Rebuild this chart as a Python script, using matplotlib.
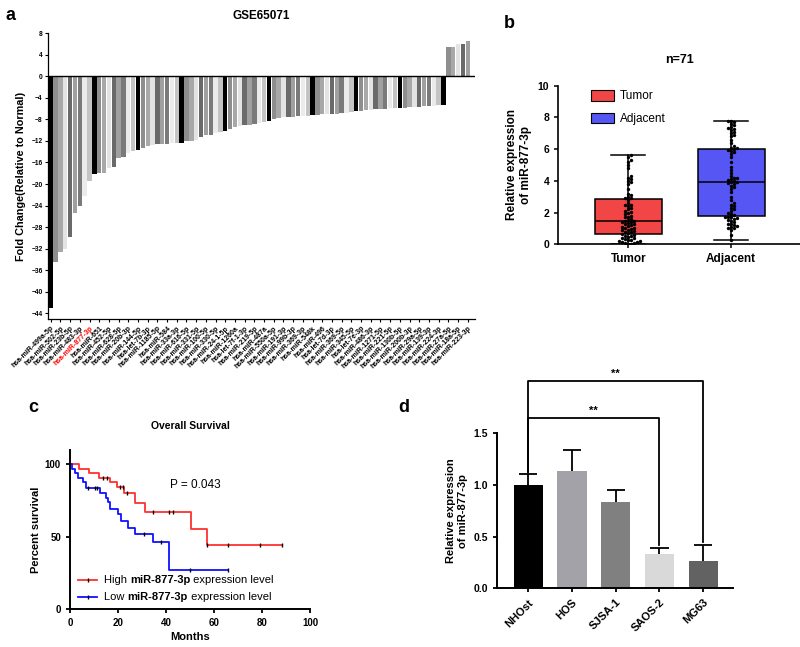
"""Four-panel miR-877-3p figure: GSE65071 fold change, tissue box plot, survival, cell lines."""

import numpy as np
import matplotlib

matplotlib.use("Agg")
import matplotlib.pyplot as plt
from matplotlib.patches import Patch

# ---- panel a: GSE65071 fold change ----
mirna_labels = [
    "hsa-miR-499a-5p", "hsa-miR-502-5p", "hsa-miR-23b-5p", "hsa-miR-483-3p",
    "hsa-miR-877-3p", "hsa-miR-651", "hsa-miR-452-5p", "hsa-miR-628-5p",
    "hsa-miR-20b-3p", "hsa-miR-144-5p", "hsa-let-7b-3p", "hsa-miR-1185-5p",
    "hsa-miR-584", "hsa-miR-33a-3p", "hsa-miR-616-5p", "hsa-miR-331-5p",
    "hsa-miR-100-5p", "hsa-miR-330-5p", "hsa-miR-24-1-5p", "hsa-miR-1260a",
    "hsa-let-7f-1-3p", "hsa-miR-219-5p", "hsa-miR-487a", "hsa-miR-550a-5p",
    "hsa-miR-191-3p", "hsa-miR-99b-3p", "hsa-miR-369-3p", "hsa-miR-548k",
    "hsa-miR-496", "hsa-let-7d-3p", "hsa-miR-369-5p", "hsa-miR-345-5p",
    "hsa-let-7e-3p", "hsa-miR-486-3p", "hsa-miR-1271-5p", "hsa-miR-221-5p",
    "hsa-miR-130b-5p", "hsa-miR-200b-3p", "hsa-miR-29a-5p", "hsa-miR-139-3p",
    "hsa-miR-224-3p", "hsa-miR-27a-5p", "hsa-miR-18a-5p", "hsa-miR-223-3p",
]
highlight_label = "hsa-miR-877-3p"
fold_change = [
    -43.1, -34.4, -32.7, -32.0, -29.9, -25.3, -24.1, -22.2, -19.4,
    -18.2, -18.0, -17.9, -17.1, -16.8, -15.1, -15.0, -14.2, -13.9,
    -13.6, -13.4, -13.0, -12.8, -12.6, -12.6, -12.5, -12.4, -12.4,
    -12.3, -12.1, -12.0, -11.9, -11.2, -10.9, -10.8, -10.5, -10.3,
    -10.2, -9.7, -9.4, -9.2, -9.1, -9.0, -8.8, -8.6, -8.4,
    -8.2, -8.0, -7.8, -7.6, -7.5, -7.5, -7.4, -7.4, -7.3,
    -7.2, -7.1, -6.9, -6.9, -6.9, -6.9, -6.8, -6.8, -6.6,
    -6.4, -6.4, -6.3, -6.2, -6.1, -6.1, -6.0, -5.9, -5.9,
    -5.8, -5.8, -5.7, -5.6, -5.6, -5.5, -5.5, -5.5, -5.4,
    -5.4, 5.4, 5.5, 6.0, 6.1, 6.6,
]
bar_shades = ["#000000", "#8e8e8e", "#a8a8a8", "#e3e3e3", "#6a6a6a",
              "#a0a0a0", "#7a7a7a", "#ebebeb", "#c4c4c4"]

# ---- panel b: tumor vs adjacent ----
groups_b = ["Tumor", "Adjacent"]
group_colors_b = ["#f24545", "#5656f5"]
box_q1 = [0.65, 1.8]
box_median = [1.45, 3.9]
box_q3 = [2.85, 6.0]
box_min = [0.05, 0.3]
box_max = [5.65, 7.8]
tumor_values = [
    0.02, 0.05, 0.08, 0.1, 0.12, 0.15, 0.18, 0.2, 0.25, 0.3, 0.32, 0.38,
    0.42, 0.45, 0.5, 0.55, 0.6, 0.63, 0.7, 0.75, 0.8, 0.85, 0.88, 0.92,
    0.95, 1.0, 1.05, 1.1, 1.15, 1.2, 1.25, 1.3, 1.35, 1.4, 1.42, 1.45,
    1.5, 1.55, 1.6, 1.7, 1.75, 1.8, 1.9, 2.0, 2.05, 2.1, 2.2, 2.3,
    2.4, 2.45, 2.5, 2.6, 2.8, 2.9, 2.95, 3.0, 3.1, 3.2, 3.5, 3.8,
    3.9, 4.0, 4.1, 4.2, 4.3, 4.8, 5.0, 5.2, 5.3, 5.5, 5.6,
]
adjacent_values = [
    0.3, 0.6, 0.9, 1.0, 1.05, 1.1, 1.15, 1.2, 1.25, 1.3, 1.4, 1.5,
    1.55, 1.6, 1.65, 1.7, 1.72, 1.75, 1.85, 1.9, 2.0, 2.1, 2.2, 2.3,
    2.4, 2.5, 2.6, 2.8, 3.0, 3.3, 3.5, 3.6, 3.7, 3.8, 3.85, 3.9,
    3.95, 4.0, 4.05, 4.1, 4.15, 4.2, 4.3, 4.5, 4.7, 4.9, 5.2, 5.5,
    5.7, 5.8, 5.9, 5.95, 6.0, 6.05, 6.1, 6.2, 6.4, 6.6, 6.8, 6.9,
    7.0, 7.1, 7.2, 7.3, 7.35, 7.4, 7.5, 7.6, 7.7, 7.75, 7.8,
]

# ---- panel c: Kaplan-Meier ----
high_times = [0, 3.6, 8.1, 12.2, 16.7, 19.7, 22.5, 27.1, 31.3, 50.3, 57.2, 88.2]
high_surv = [100, 97, 94, 91, 88, 84.5, 80.5, 73.5, 67, 55.5, 44.5, 44.5]
high_censored = [13.9, 15.6, 20.8, 22.2, 23.6, 34.4, 41.4, 42.8, 57.2, 66, 79.2, 88.2]
low_times = [0, 0.7, 2.1, 3.5, 5.6, 6.7, 12.5, 15, 16, 16.7, 20.1, 21.1,
             24.3, 27.1, 34.7, 41.4, 66]
low_surv = [100, 97, 94, 91, 88, 83.5, 80.5, 77, 74, 69, 65.5, 61,
            56.3, 52.1, 46.5, 27.3, 27.3]
low_censored = [7.5, 10.4, 11.4, 30.8, 37.9, 50, 66]
p_value_text = "P = 0.043"

# ---- panel d: cell lines ----
cell_lines = ["NHOst", "HOS", "SJSA-1", "SAOS-2", "MG63"]
cell_expr = [1.0, 1.13, 0.83, 0.33, 0.265]
cell_err = [0.10, 0.21, 0.12, 0.055, 0.155]
cell_colors = ["#000000", "#a2a2a8", "#808080", "#d9d9d9", "#626262"]
sig_pairs = [(0, 3), (0, 4)]
sig_heights = [1.65, 2.0]
sig_text = ["**", "**"]

W, H = 800, 647


def px_axes(left, top, right, bottom):
    return [left / W, 1 - bottom / H, (right - left) / W, (bottom - top) / H]


def swarm_offsets(values, x_scale, y_scale, dot=3.0):
    """Deterministic beeswarm: push points sideways until they stop overlapping."""
    values = np.asarray(values, dtype=float)
    offsets = np.zeros(len(values))
    placed = []
    step = dot / x_scale
    for i in np.argsort(values):
        y = values[i] * y_scale
        k = 0
        while True:
            n = (k + 1) // 2
            cand = n * step * (1 if k % 2 else -1)
            if all(((cand - px) * x_scale) ** 2 + (y - py) ** 2 >= dot ** 2 for px, py in placed):
                break
            k += 1
        offsets[i] = cand
        placed.append((cand, y))
    return offsets


def step_at(times, surv, t):
    idx = np.searchsorted(times, t, side="right") - 1
    return np.asarray(surv)[idx]


plt.rcParams.update({
    "font.family": ["Liberation Sans", "DejaVu Sans"],
    "font.weight": "bold",
    "axes.labelweight": "bold",
    "axes.titleweight": "bold",
    "figure.facecolor": "white",
    "axes.facecolor": "white",
    "xtick.direction": "out",
    "ytick.direction": "out",
})

fig = plt.figure(figsize=(W / 100, H / 100), dpi=100)

# ---------------- a ----------------
ax_a = fig.add_axes(px_axes(48.3, 33.3, 475, 318.6))
xa = np.arange(len(fold_change))
ax_a.bar(xa, fold_change, width=0.9, color=[bar_shades[i % len(bar_shades)] for i in xa])
ax_a.axhline(0, color="black", lw=1.0)
ax_a.set_xlim(-0.5, len(fold_change) + 0.5)
ax_a.set_ylim(-45, 8)
ax_a.set_yticks(np.arange(-44, 9, 4))
ax_a.set_xticks(xa[::2])
ax_a.set_xticklabels(mirna_labels, rotation=45, ha="right", rotation_mode="anchor", fontsize=5)
for lab in ax_a.get_xticklabels():
    if lab.get_text() == highlight_label:
        lab.set_color("red")
ax_a.tick_params(axis="y", labelsize=4.8, length=2.5, width=0.8, pad=1.5)
ax_a.tick_params(axis="x", length=2.5, width=0.8, pad=2)
for s in ("top", "right"):
    ax_a.spines[s].set_visible(False)
for s in ("left", "bottom"):
    ax_a.spines[s].set_linewidth(0.9)
ax_a.set_ylabel("Fold Change(Relative to Normal)", fontsize=7.8, labelpad=4)
ax_a.set_title("GSE65071", fontsize=8.5, pad=10)

# ---------------- b ----------------
ax_b = fig.add_axes(px_axes(558.3, 85.7, 800, 244.3))
stats = [dict(med=box_median[i], q1=box_q1[i], q3=box_q3[i],
              whislo=box_min[i], whishi=box_max[i], label=groups_b[i])
         for i in range(len(groups_b))]
bp = ax_b.bxp(stats, positions=[0, 1], widths=0.65, patch_artist=True, showfliers=False,
              capwidths=0.33,
              boxprops=dict(linewidth=1.1, edgecolor="black"),
              medianprops=dict(color="black", linewidth=1.1),
              whiskerprops=dict(linewidth=1.1),
              capprops=dict(linewidth=1.1))
for patch, c in zip(bp["boxes"], group_colors_b):
    patch.set_facecolor(c)
for pos, vals in enumerate([tumor_values, adjacent_values]):
    off = swarm_offsets(vals, x_scale=103.0, y_scale=15.86, dot=3.0)
    ax_b.scatter(pos + off, vals, s=6, color="black", zorder=4, linewidths=0)
ax_b.set_xlim(-0.68, 1.67)
ax_b.set_ylim(0, 10)
ax_b.set_yticks([0, 2, 4, 6, 8, 10])
ax_b.tick_params(axis="both", labelsize=7.5, length=3, width=1.1)
ax_b.tick_params(axis="x", labelsize=8.5)
for s in ("top", "right"):
    ax_b.spines[s].set_visible(False)
for s in ("left", "bottom"):
    ax_b.spines[s].set_linewidth(1.2)
ax_b.set_ylabel("Relative expression\nof miR-877-3p", fontsize=8.5, labelpad=4)
ax_b.set_title("n=71", fontsize=9, pad=16)
ax_b.legend(handles=[Patch(facecolor=c, edgecolor="black", linewidth=0.8, label=g)
                     for g, c in zip(groups_b, group_colors_b)],
            loc="upper left", bbox_to_anchor=(0.09, 1.04), frameon=False,
            prop={"weight": "normal", "size": 8.5}, handlelength=2.0, handleheight=1.0,
            labelspacing=0.9, handletextpad=0.5)

# ---------------- c ----------------
ax_c = fig.add_axes(px_axes(70, 450, 310, 609.3))
for times, surv, cens, col in [(high_times, high_surv, high_censored, "#ff3030"),
                               (low_times, low_surv, low_censored, "#1010ff")]:
    ax_c.step(times, surv, where="post", color=col, lw=1.3, zorder=2)
    ax_c.plot(cens, step_at(times, surv, cens), ls="none", marker="|", ms=3.5,
              mew=1.0, color="black", zorder=3)
ax_c.set_xlim(0, 100)
ax_c.set_ylim(0, 110)
ax_c.set_xticks([0, 20, 40, 60, 80, 100])
ax_c.set_yticks([0, 50, 100])
ax_c.tick_params(axis="both", labelsize=7, length=3, width=1.3)
for s in ("top", "right"):
    ax_c.spines[s].set_visible(False)
for s in ("left", "bottom"):
    ax_c.spines[s].set_linewidth(1.4)
ax_c.set_xlabel("Months", fontsize=8, labelpad=3)
ax_c.set_ylabel("Percent survival", fontsize=8, labelpad=3)
ax_c.set_title("Overall Survival", fontsize=7.5, pad=15)
ax_c.text(41.7, 86, p_value_text, fontsize=8.5, fontweight="normal", va="center")

# legend with mixed-weight labels
for ypos, col, word in [(0.184, "#ff3030", "High "), (0.077, "#1010ff", "Low ")]:
    ax_c.plot([0.033, 0.1125], [ypos, ypos], color=col, lw=1.3, transform=ax_c.transAxes, clip_on=False)
    ax_c.plot([0.073], [ypos], marker="|", ms=3.5, mew=1.0, color="black",
              transform=ax_c.transAxes, clip_on=False)
    t1 = ax_c.text(0.142, ypos, word, transform=ax_c.transAxes, va="center",
                   fontsize=8, fontweight="normal")
    t2 = ax_c.annotate("miR-877-3p", xy=(1, 0), xycoords=t1, va="bottom",
                       fontsize=8, fontweight="bold")
    ax_c.annotate(" expression level", xy=(1, 0), xycoords=t2, va="bottom",
                  fontsize=8, fontweight="normal")

# ---------------- d ----------------
ax_d = fig.add_axes(px_axes(496.7, 433.1, 733, 588.3))
xd = np.arange(len(cell_lines))
ax_d.bar(xd, cell_expr, width=0.67, color=cell_colors)
tops = np.array(cell_expr) + np.array(cell_err)
ax_d.vlines(xd, cell_expr, tops, color="black", lw=1.3)
ax_d.hlines(tops, xd - 0.21, xd + 0.21, color="black", lw=1.3)
for (i, j), h, txt in zip(sig_pairs, sig_heights, sig_text):
    ax_d.plot([i, i, j, j], [tops[i] + 0.02, h, h, tops[j] + 0.03],
              color="black", lw=1.3, clip_on=False)
    ax_d.text((i + j) / 2, h + 0.02, txt, ha="center", va="bottom", fontsize=8)
ax_d.set_xlim(-0.72, 4.68)
ax_d.set_ylim(0, 1.5)
ax_d.set_yticks([0.0, 0.5, 1.0, 1.5])
ax_d.set_xticks(xd)
ax_d.set_xticklabels(cell_lines, rotation=45, ha="right", rotation_mode="anchor")
ax_d.tick_params(axis="both", labelsize=7.5, length=3, width=1.3)
ax_d.tick_params(axis="x", labelsize=8)
for s in ("top", "right"):
    ax_d.spines[s].set_visible(False)
for s in ("left", "bottom"):
    ax_d.spines[s].set_linewidth(1.4)
ax_d.set_ylabel("Relative expression\nof miR-877-3p", fontsize=8, labelpad=4)

# panel letters
for letter, (px, py) in zip("abcd", [(10, 15), (509, 23), (33, 407), (404, 407)]):
    fig.text(px / W, 1 - py / H, letter, fontsize=13, fontweight="bold", ha="center", va="center")

fig.savefig("out.png", dpi=100)
